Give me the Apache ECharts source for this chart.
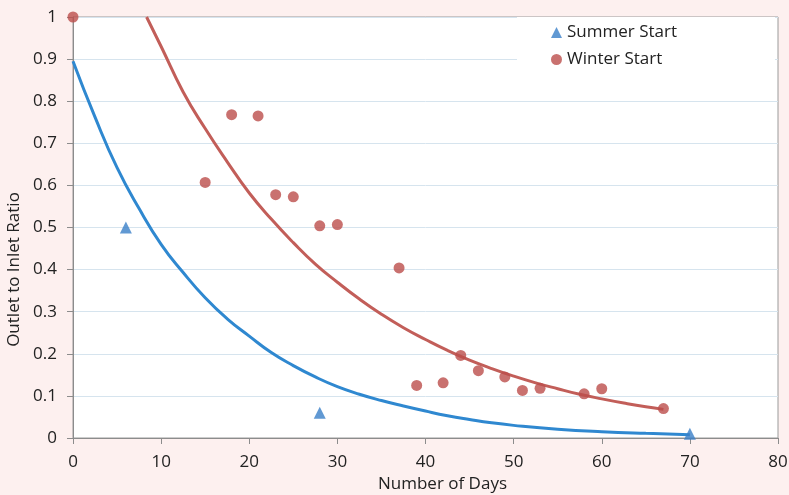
<!DOCTYPE html>
<html>
<head>
<meta charset="utf-8">
<script src="https://cdn.jsdelivr.net/npm/echarts@6/dist/echarts.min.js"></script>
<style>
html,body{margin:0;padding:0;background:#fdf0ef;}
#chart{width:789px;height:495px;}
</style>
</head>
<body>
<div id="chart"></div>
<script>
// Observed points
const summerDays = [6, 28, 70];
const summerRatio = [0.50, 0.06, 0.01];
const winterDays = [0, 15, 18, 21, 23, 25, 28, 30, 37, 39, 42, 44, 46, 49, 51, 53, 58, 60, 67];
const winterRatio = [1.0, 0.607, 0.768, 0.765, 0.578, 0.573, 0.504, 0.507, 0.404, 0.125, 0.131, 0.196, 0.160, 0.145, 0.113, 0.118, 0.105, 0.117, 0.070];
// Trend curves
const summerTrendDays = [0, 2.5, 5, 7.5, 10, 12.5, 15, 17.5, 20, 22.5, 25, 27.5, 30, 32.5, 35, 37.5, 40, 42.5, 45, 47.5, 50, 55, 60, 65, 70];
const summerTrendRatio = [0.895, 0.762, 0.642, 0.545, 0.46, 0.393, 0.333, 0.283, 0.242, 0.203, 0.172, 0.145, 0.122, 0.104, 0.089, 0.076, 0.064, 0.053, 0.044, 0.036, 0.03, 0.021, 0.015, 0.011, 0.008];
const winterTrendDays = [8.35, 10, 12.5, 15, 17.5, 20, 22.5, 25, 27.5, 30, 32.5, 35, 37.5, 40, 42.5, 45, 47.5, 50, 52.5, 55, 57.5, 60, 62.5, 65, 67];
const winterTrendRatio = [1.0, 0.93, 0.822, 0.735, 0.656, 0.582, 0.52, 0.464, 0.413, 0.37, 0.33, 0.294, 0.262, 0.234, 0.208, 0.185, 0.165, 0.147, 0.131, 0.117, 0.104, 0.093, 0.083, 0.074, 0.068];
// Axis settings
const xTicks = { min: 0, max: 80, interval: 10 };
const yTicks = { min: 0, max: 1, interval: 0.1 };
const seriesNames = ['Summer Start', 'Winter Start'];

const zip = (a, b) => a.map((v, i) => [v, b[i]]);
const FONT = "'Open Sans', 'Noto Sans', sans-serif";
const BLUE = '#3a80c8';
const RED = '#bb4e4b';

const chart = echarts.init(document.getElementById('chart'), null, { renderer: 'canvas' });
chart.setOption({
  backgroundColor: '#fdf0ef',
  animation: false,
  textStyle: { fontFamily: FONT },
  grid: {
    left: 73, right: 11, top: 17, bottom: 57,
    containLabel: false, outerBoundsMode: 'none',
    show: true, backgroundColor: '#ffffff', borderColor: '#9a9a9a', borderWidth: 1
  },
  legend: {
    data: [
      { name: seriesNames[0], icon: 'triangle' },
      { name: seriesNames[1], icon: 'circle' }
    ],
    orient: 'vertical',
    left: 517, top: 17,
    padding: [7, 98, 8, 34],
    itemWidth: 11, itemHeight: 11, itemGap: 10,
    backgroundColor: '#ffffff',
    textStyle: { fontFamily: FONT, fontSize: 17, color: '#222' }
  },
  xAxis: {
    type: 'value',
    min: xTicks.min, max: xTicks.max, interval: xTicks.interval,
    name: 'Number of Days', nameLocation: 'middle', nameGap: 35,
    nameTextStyle: { fontFamily: FONT, fontSize: 17, color: '#222', padding: [0, 0, 0, 34] },
    axisLine: { show: true, lineStyle: { color: '#8c8c8c', width: 1 } },
    axisTick: { show: true, inside: false, length: 6, lineStyle: { color: '#8c8c8c' } },
    axisLabel: { fontFamily: FONT, fontSize: 17, color: '#222', margin: 16 },
    splitLine: { show: false }
  },
  yAxis: {
    type: 'value',
    min: yTicks.min, max: yTicks.max, interval: yTicks.interval,
    name: 'Outlet to Inlet Ratio', nameLocation: 'middle', nameGap: 46,
    nameTextStyle: { fontFamily: FONT, fontSize: 17, color: '#222', padding: [0, 84, 0, 0] },
    axisLine: { show: true, lineStyle: { color: '#8c8c8c', width: 1 } },
    axisTick: { show: true, inside: false, length: 6, lineStyle: { color: '#8c8c8c' } },
    axisLabel: { fontFamily: FONT, fontSize: 17, color: '#222', margin: 16 },
    splitLine: { show: true, lineStyle: { color: '#d6e4ee', width: 1 } }
  },
  series: [
    {
      name: 'Summer Trend', type: 'line', data: zip(summerTrendDays, summerTrendRatio),
      smooth: true, showSymbol: false, symbol: 'none',
      lineStyle: { color: '#2f88d0', width: 3 }, z: 2, silent: true
    },
    {
      name: 'Winter Trend', type: 'line', data: zip(winterTrendDays, winterTrendRatio),
      smooth: true, showSymbol: false, symbol: 'none',
      lineStyle: { color: '#c25e59', width: 3 }, z: 2, silent: true
    },
    {
      name: seriesNames[0], type: 'scatter', data: zip(summerDays, summerRatio),
      symbol: 'triangle', symbolSize: 12, itemStyle: { color: BLUE }, z: 5, clip: false
    },
    {
      name: seriesNames[1], type: 'scatter', data: zip(winterDays, winterRatio),
      symbol: 'circle', symbolSize: 11, itemStyle: { color: RED }, z: 5, clip: false
    }
  ]
});
</script>
</body>
</html>
